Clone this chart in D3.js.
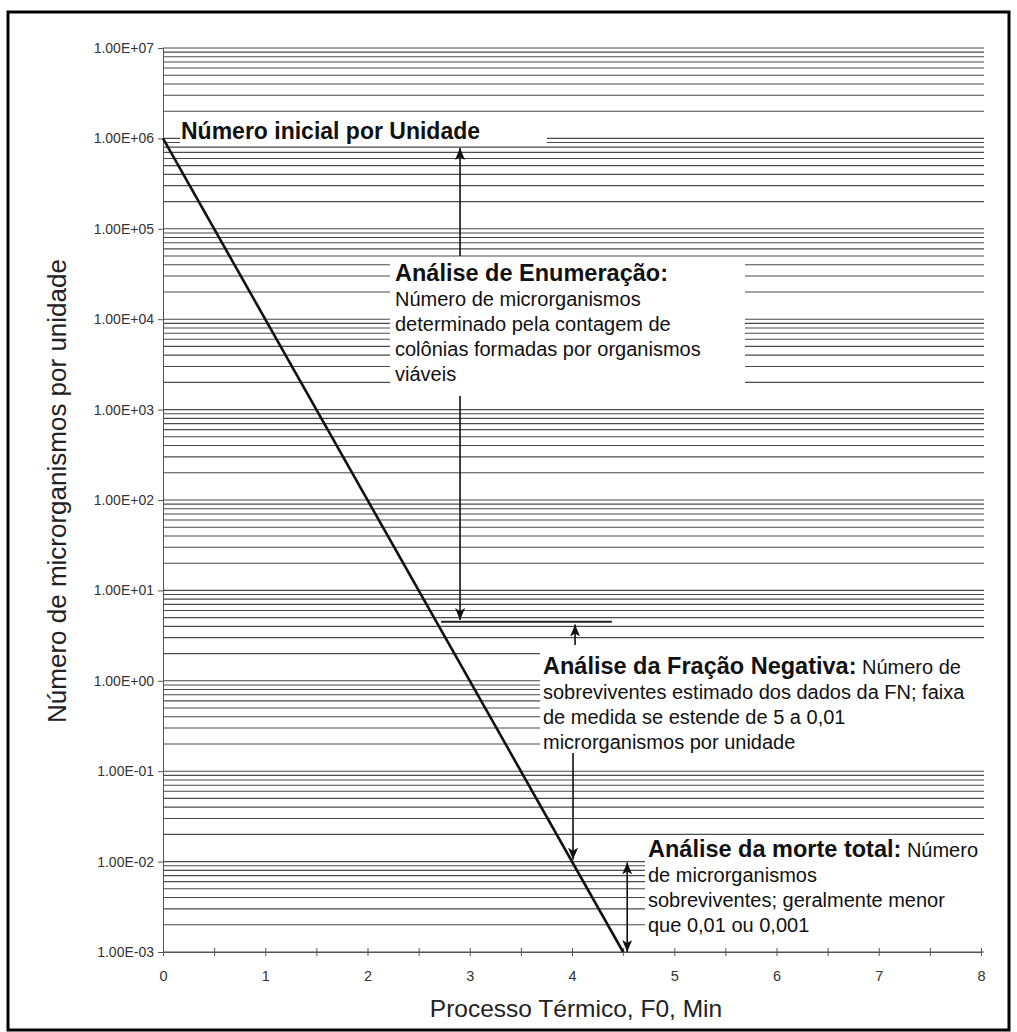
<!DOCTYPE html>
<html>
<head>
<meta charset="utf-8">
<script src="https://cdn.jsdelivr.net/npm/d3@7"></script>
<style>
  body { margin: 0; background: #fff; }
  svg { display: block; font-family: "Liberation Sans", Arial, sans-serif; }
</style>
</head>
<body>
<div id="chart"></div>
<script>
// survivor curve
var processTime = [0, 4.5];        // F0, min
var survivors = [1e6, 1e-3];       // microrganismos por unidade

// axes
var xTickValues = [0, 1, 2, 3, 4, 5, 6, 7, 8];
var xMinorTicks = [0.5, 1.5, 2.5, 3.5, 4.5, 5.5, 6.5, 7.5];
var yTickValues = [1e-3, 1e-2, 1e-1, 1e0, 1e1, 1e2, 1e3, 1e4, 1e5, 1e6, 1e7];
var yTickLabels = ["1.00E-03", "1.00E-02", "1.00E-01", "1.00E+00", "1.00E+01",
  "1.00E+02", "1.00E+03", "1.00E+04", "1.00E+05", "1.00E+06", "1.00E+07"];
var xTitle = "Processo Térmico, F0, Min";
var yTitle = "Número de microrganismos por unidade";

// annotations
var initialLabel = "Número inicial por Unidade";
var enumTitle = "Análise de Enumeração:";
var enumLines = ["Número de microrganismos", "determinado pela contagem de",
  "colônias formadas por organismos", "viáveis"];
var fnTitle = "Análise da Fração Negativa:";
var fnLines = [" Número de", "sobreviventes estimado dos dados da FN; faixa",
  "de medida se estende de 5 a 0,01", "microrganismos por unidade"];
var deathTitle = "Análise da morte total:";
var deathLines = [" Número", "de microrganismos", "sobreviventes; geralmente menor",
  "que 0,01 ou 0,001"];

var W = 1017, H = 1032;
var margin = { top: 48, left: 163 },
  width = 818,
  height = 904;

var svg = d3.select("#chart").append("svg")
  .attr("width", W)
  .attr("height", H);

// set the ranges
var x = d3.scaleLinear().domain([0, 8]).range([0, width]);
var y = d3.scaleLog().domain([1e-3, 1e7]).range([height, 0]);

function px(v) { return margin.left + x(v); }
function py(v) { return margin.top + y(v); }

var g = svg.append("g")
  .attr("transform", "translate(" + margin.left + "," + margin.top + ")");

// horizontal grid, one line per 1..9 x 10^n
g.selectAll(".grid")
  .data(y.ticks(60))
  .enter().append("line")
  .attr("class", "grid")
  .attr("x1", 0)
  .attr("x2", width + 3)
  .attr("y1", function (d) { return y(d); })
  .attr("y2", function (d) { return y(d); })
  .style("stroke", "#4a4a4a")
  .style("stroke-width", 1.1);

// white boxes behind the notes
var boxes = [
  [180, 117, 547, 143],
  [390, 257, 745, 396],
  [540, 645, 995, 753],
  [645, 838, 995, 947]
];
svg.selectAll(".box")
  .data(boxes)
  .enter().append("rect")
  .attr("class", "box")
  .attr("x", function (d) { return d[0]; })
  .attr("y", function (d) { return d[1]; })
  .attr("width", function (d) { return d[2] - d[0]; })
  .attr("height", function (d) { return d[3] - d[1]; })
  .style("fill", "#fff");

// Y axis
var yAxis = g.append("g")
  .attr("class", "y axis")
  .call(d3.axisLeft(y)
    .tickValues(yTickValues)
    .tickSize(5)
    .tickPadding(4)
    .tickFormat(function (d, i) { return yTickLabels[i]; }));
yAxis.selectAll("text")
  .style("font-size", "14px")
  .style("font-family", "'Liberation Sans', Arial, sans-serif")
  .style("fill", "#333");

// X axis
var xAxis = g.append("g")
  .attr("class", "x axis")
  .attr("transform", "translate(0," + height + ")")
  .call(d3.axisBottom(x)
    .tickValues(xTickValues.concat(xMinorTicks))
    .tickSize(4)
    .tickPadding(15)
    .tickFormat(function (d) { return xTickValues.indexOf(d) >= 0 ? d : ""; }));
xAxis.selectAll(".tick line").attr("y1", -4);
xAxis.selectAll("text")
  .style("font-size", "14.5px")
  .style("font-family", "'Liberation Sans', Arial, sans-serif")
  .style("fill", "#333");

[yAxis, xAxis].forEach(function (a) {
  a.select(".domain").style("stroke", "#555");
  a.selectAll(".tick line").style("stroke", "#555");
});

// survivor line
var curve = processTime.map(function (t, i) { return { x: t, y: survivors[i] }; });
var line = d3.line()
  .x(function (d) { return x(d.x); })
  .y(function (d) { return y(d.y); });
g.append("path")
  .datum(curve)
  .attr("d", line)
  .style("fill", "none")
  .style("stroke", "#111")
  .style("stroke-width", 2.6);

// axis titles
svg.append("text")
  .attr("x", 576)
  .attr("y", 1017)
  .attr("text-anchor", "middle")
  .style("font-size", "24.5px")
  .style("fill", "#222")
  .text(xTitle);

svg.append("text")
  .attr("transform", "translate(66,491) rotate(-90)")
  .attr("text-anchor", "middle")
  .style("font-size", "26px")
  .style("fill", "#222")
  .text(yTitle);

// arrows
var defs = svg.append("defs");
defs.append("marker")
  .attr("id", "head")
  .attr("viewBox", "0 0 12 10")
  .attr("refX", 12)
  .attr("refY", 5)
  .attr("markerUnits", "userSpaceOnUse")
  .attr("markerWidth", 12)
  .attr("markerHeight", 10)
  .attr("orient", "auto-start-reverse")
  .append("path")
  .attr("d", "M0,0L12,5L0,10L3,5Z")
  .style("fill", "#111");

function arrow(x1, y1, x2, y2, both) {
  var a = svg.append("line")
    .attr("x1", x1).attr("y1", y1)
    .attr("x2", x2).attr("y2", y2)
    .style("stroke", "#111")
    .style("stroke-width", 1.6)
    .attr("marker-end", "url(#head)");
  if (both) a.attr("marker-start", "url(#head)");
}

arrow(px(2.905), 256, px(2.905), 148);
arrow(px(2.905), 396, px(2.905), py(4.7));
arrow(px(4.03), 645, px(4.03), py(4.2));
arrow(px(4.01), 753, px(4.01), py(0.0105));
arrow(px(4.54), py(0.0098), px(4.54), py(0.001), true);

// marker for the 5 per unit limit
svg.append("line")
  .attr("x1", px(2.72)).attr("x2", px(4.39))
  .attr("y1", py(4.5)).attr("y2", py(4.5))
  .style("stroke", "#222")
  .style("stroke-width", 2);

// notes
svg.append("text")
  .attr("x", 181)
  .attr("y", 139)
  .style("font-size", "23px")
  .style("font-weight", "bold")
  .style("fill", "#111")
  .text(initialLabel);

function note(x0, y0, title, lines) {
  var t = svg.append("text")
    .attr("x", x0)
    .attr("y", y0)
    .style("fill", "#111");
  t.append("tspan")
    .style("font-size", "23.5px")
    .style("font-weight", "bold")
    .text(title);
  var rest = lines;
  if (lines[0].charAt(0) === " ") {
    t.append("tspan")
      .style("font-size", "20px")
      .text(lines[0]);
    rest = lines.slice(1);
  }
  rest.forEach(function (s, i) {
    svg.append("text")
      .attr("x", x0)
      .attr("y", y0 + 25 * (i + 1))
      .style("font-size", "20px")
      .style("fill", "#111")
      .text(s);
  });
}

note(395, 281, enumTitle, enumLines);
note(543, 674, fnTitle, fnLines);
note(648, 857, deathTitle, deathLines);

// frame
svg.append("rect")
  .attr("x", 8)
  .attr("y", 12)
  .attr("width", 1001)
  .attr("height", 1018)
  .style("fill", "none")
  .style("stroke", "#000")
  .style("stroke-width", 3);
</script>
</body>
</html>
